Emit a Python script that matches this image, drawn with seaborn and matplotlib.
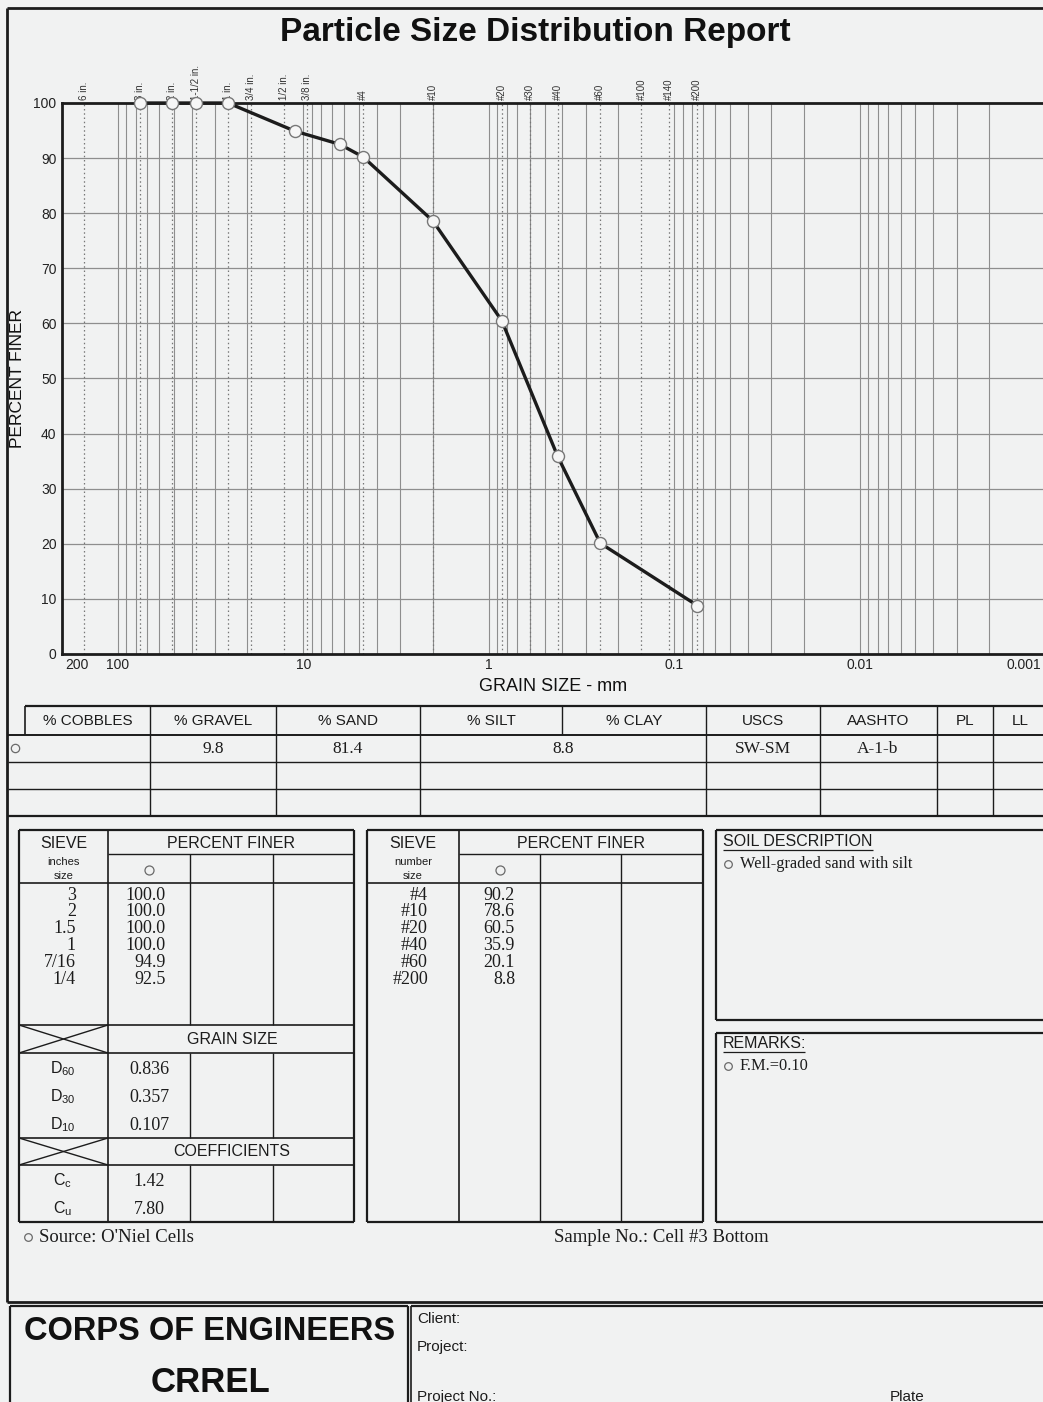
import matplotlib
matplotlib.use("Agg")
import matplotlib.pyplot as plt
from matplotlib.ticker import NullLocator
import pandas as pd
import seaborn as sns

# ---- sieve analysis data ----
sieve_in_labels = ["3", "2", "1.5", "1", "7/16", "1/4"]
sieve_in_mm = [76.2, 50.8, 38.1, 25.4, 11.1, 6.35]
pct_in = [100.0, 100.0, 100.0, 100.0, 94.9, 92.5]

sieve_no_labels = ["#4", "#10", "#20", "#40", "#60", "#200"]
sieve_no_mm = [4.75, 2.0, 0.85, 0.425, 0.25, 0.075]
pct_no = [90.2, 78.6, 60.5, 35.9, 20.1, 8.8]

# standard sieve openings marked across the top of the chart
ref_labels = ["6 in.", "3 in.", "2 in.", "1-1/2 in.", "1 in.", "3/4 in.", "1/2 in.", "3/8 in.",
              "#4", "#10", "#20", "#30", "#40", "#60", "#100", "#140", "#200"]
ref_mm = [152.4, 76.2, 50.8, 38.1, 25.4, 19.05, 12.7, 9.525,
          4.75, 2.0, 0.85, 0.6, 0.425, 0.25, 0.15, 0.106, 0.075]

# summary row
summary_headers = ["% COBBLES", "% GRAVEL", "% SAND", "% SILT", "% CLAY", "USCS", "AASHTO", "PL", "LL"]
pct_gravel = "9.8"
pct_sand = "81.4"
pct_fines = "8.8"
uscs = "SW-SM"
aashto = "A-1-b"

# grain size and coefficients
d_labels = ["D$_{60}$", "D$_{30}$", "D$_{10}$"]
d_values = ["0.836", "0.357", "0.107"]
c_labels = ["C$_{\\rm c}$", "C$_{\\rm u}$"]
c_values = ["1.42", "7.80"]

soil_description = "Well-graded sand with silt"
remarks = "F.M.=0.10"
source = "Source: O'Niel Cells"
sample_no = "Sample No.: Cell #3 Bottom"

# ---- styling ----
W, H = 1043, 1402
BG = "#f1f2f2"
INK = "#1c1c1c"
GRID = "#8e8e8e"
SANS = ["Liberation Sans", "DejaVu Sans"]
SERIF = ["Liberation Serif", "DejaVu Serif"]

sns.set_style("white")
plt.rcParams["font.family"] = SANS
plt.rcParams["mathtext.fontset"] = "custom"
plt.rcParams["mathtext.rm"] = "Liberation Sans"
plt.rcParams["mathtext.it"] = "Liberation Sans:italic"
plt.rcParams["mathtext.bf"] = "Liberation Sans:bold"

fig = plt.figure(figsize=(W / 100, H / 100), dpi=100, facecolor=BG)

# page overlay in pixel units (y downward) for the report form
ov = fig.add_axes([0, 0, 1, 1])
ov.set_xlim(0, W)
ov.set_ylim(H, 0)
ov.axis("off")
ov.set_zorder(0)


def hl(y, x0, x1, lw=1.0):
    ov.plot([x0, x1], [y, y], color=INK, lw=lw, solid_capstyle="butt")


def vl(x, y0, y1, lw=1.0):
    ov.plot([x, x], [y0, y1], color=INK, lw=lw, solid_capstyle="butt")


def rect(x0, y0, x1, y1, lw=1.5):
    hl(y0, x0, x1, lw)
    hl(y1, x0, x1, lw)
    vl(x0, y0, y1, lw)
    vl(x1, y0, y1, lw)


def txt(x, y, s, size=11, family=SANS, ha="left", va="center", weight="normal", color=INK):
    ov.text(x, y, s, fontsize=size, family=family, ha=ha, va=va, weight=weight, color=color)


def ring(x, y, size=6):
    ov.plot([x], [y], marker="o", ms=size, mfc="none", mec="#6a6a6a", mew=0.9)


# ---- gradation chart ----
X0, X1, Y0, Y1 = 62, 1045, 103, 654
ax = fig.add_axes([X0 / W, 1 - Y1 / H, (X1 - X0) / W, (Y1 - Y0) / H])
ax.set_zorder(2)
ax.set_facecolor("none")
ax.set_xscale("log")

df = pd.DataFrame({"size_mm": sieve_in_mm + sieve_no_mm, "pct": pct_in + pct_no})

for e in range(-3, 3):
    for k in range(1, 10):
        v = k * 10.0 ** e
        if 0.001 < v < 200:
            ax.axvline(v, color=GRID, lw=0.8, zorder=1)
for yv in range(10, 100, 10):
    ax.axhline(yv, color=GRID, lw=0.9, zorder=1)
for s in ref_mm:
    ax.axvline(s, color="#777777", lw=0.9, ls=(0, (1.2, 2.2)), zorder=2)

sns.lineplot(data=df, x="size_mm", y="pct", ax=ax, color=INK, lw=2.4,
             zorder=5, clip_on=False, estimator=None)
sns.scatterplot(data=df, x="size_mm", y="pct", ax=ax, s=75, color="#f6f6f6",
                edgecolor="#777777", linewidth=1.0, zorder=6, clip_on=False)

ax.set_xlim(200, 0.001)
ax.set_ylim(0, 100)

for side in ["left", "top", "bottom"]:
    ax.spines[side].set_linewidth(2.0)
    ax.spines[side].set_color(INK)
ax.spines["right"].set_visible(False)

ax.set_yticks(range(0, 101, 10))
ax.set_xticks([100, 10, 1, 0.1, 0.01])
ax.set_xticklabels(["100", "10", "1", "0.1", "0.01"])
ax.xaxis.set_minor_locator(NullLocator())
ax.tick_params(axis="both", length=0, labelsize=10, colors="#222222")
ax.tick_params(axis="y", pad=4)
ax.tick_params(axis="x", pad=3)
ax.annotate("200", xy=(200, 0), xytext=(2, -3), textcoords="offset points",
            ha="left", va="top", fontsize=10, color="#222222", annotation_clip=False)
ax.annotate("0.001", xy=(0.001, 0), xytext=(-3, -3), textcoords="offset points",
            ha="right", va="top", fontsize=10, color="#222222", annotation_clip=False)

ax.set_xlabel("GRAIN SIZE - mm", fontsize=13, labelpad=4, color="#111111")
ax.set_ylabel("PERCENT FINER", fontsize=12.5, labelpad=6, color="#111111")

for s, lab in zip(ref_mm, ref_labels):
    ax.annotate(lab, xy=(s, 100), xytext=(0, 2.5), textcoords="offset points",
                rotation=90, ha="center", va="bottom", fontsize=7, color="#333333",
                annotation_clip=False)

fig.text(535 / W, 1 - 33 / H, "Particle Size Distribution Report", ha="center", va="center",
         fontsize=24, weight="bold", color="#111111")

# ---- page frame ----
vl(7, 8, 1302, 2.0)
hl(8, 7, 1050, 2.0)

# ---- summary table ----
t1 = [25, 150, 276, 420, 562, 706, 820, 937, 993, 1050]
hl(706, 25, 1050, 1.6)
hl(735, 8, 1050, 1.4)
hl(762, 8, 1050, 1.0)
hl(789, 8, 1050, 1.0)
hl(816, 8, 1050, 1.6)
vl(25, 706, 735, 1.2)
vl(562, 706, 735, 1.0)
for c in [150, 276, 420, 706, 820, 937, 993]:
    vl(c, 706, 816, 1.0)
for i, lab in enumerate(summary_headers):
    txt((t1[i] + t1[i + 1]) / 2 if i < 8 else 1020, 721, lab, size=11, ha="center")
ring(15, 748)
txt(213, 749, pct_gravel, size=12.5, family=SERIF, ha="center")
txt(348, 749, pct_sand, size=12.5, family=SERIF, ha="center")
txt(563, 749, pct_fines, size=12.5, family=SERIF, ha="center")
txt(763, 749, uscs, size=12.5, family=SERIF, ha="center")
txt(878, 749, aashto, size=12.5, family=SERIF, ha="center")

# ---- sieve tables ----
ROW0, ROW_STEP = 895, 16.8


def sieve_table(x0, xc1, xc2, xc3, x1, unit_word, sizes, values, size_right, value_right):
    rect(x0, 830, x1, 1222, 1.6)
    vl(xc1, 830, 1222, 1.2)
    hl(854, xc1, x1, 1.0)
    hl(883, x0, x1, 1.2)
    mid = (x0 + xc1) / 2
    txt(mid, 843, "SIEVE", size=11.5, ha="center")
    txt(mid, 862, unit_word, size=8, ha="center")
    txt(mid, 876, "size", size=8, ha="center")
    txt((xc1 + x1) / 2, 843, "PERCENT FINER", size=11.5, ha="center")
    ring((xc1 + xc2) / 2, 870, 6.5)
    for i, (s, v) in enumerate(zip(sizes, values)):
        y = ROW0 + i * ROW_STEP
        txt(size_right, y, s, size=13, family=SERIF, ha="right")
        txt(value_right, y, f"{v:.1f}", size=13, family=SERIF, ha="right")


# inch sieves
sieve_table(19, 108, 190, 273, 354, "inches", sieve_in_labels, pct_in, 76, 166)
for c in [190, 273]:
    vl(c, 854, 1025, 1.0)
    vl(c, 1053, 1138, 1.0)
    vl(c, 1165, 1222, 1.0)
for y in [1025, 1053, 1138, 1165]:
    hl(y, 19, 354, 1.2)
for (ya, yb) in [(1025, 1053), (1138, 1165)]:
    ov.plot([19, 108], [ya, yb], color=INK, lw=1.0)
    ov.plot([19, 108], [yb, ya], color=INK, lw=1.0)
txt(232, 1040, "GRAIN SIZE", size=11.5, ha="center")
txt(232, 1152, "COEFFICIENTS", size=11.5, ha="center")
for i, (lab, v) in enumerate(zip(d_labels, d_values)):
    y = 1069 + i * 28
    txt(63, y, lab, size=11.5, ha="center")
    txt(149, y, v, size=13, family=SERIF, ha="center")
for i, (lab, v) in enumerate(zip(c_labels, c_values)):
    y = 1181 + i * 28
    txt(63, y, lab, size=11.5, ha="center")
    txt(149, y, v, size=13, family=SERIF, ha="center")

# number sieves
sieve_table(367, 459, 540, 621, 703, "number", sieve_no_labels, pct_no, 428, 515)
for c in [540, 621]:
    vl(c, 854, 1222, 1.0)

# ---- description boxes ----
rect(716, 830, 1050, 1020, 1.6)
txt(723, 841, "SOIL DESCRIPTION", size=11.5)
hl(850, 723, 873, 0.9)
ring(728, 864, 5.5)
txt(740, 864, soil_description, size=11.8, family=SERIF)

rect(716, 1033, 1050, 1222, 1.6)
txt(723, 1043, "REMARKS:", size=11.5)
hl(1052, 723, 805, 0.9)
ring(728, 1066, 5.5)
txt(740, 1066, remarks, size=11.8, family=SERIF)

ring(28, 1237, 5.5)
txt(39, 1237, source, size=13.5, family=SERIF)
txt(554, 1237, sample_no, size=13.5, family=SERIF)

# ---- title block ----
hl(1302, 7, 1050, 2.0)
vl(10, 1306, 1410, 1.6)
hl(1306, 10, 408, 1.6)
vl(408, 1306, 1410, 1.6)
hl(1306, 411, 1050, 1.6)
vl(411, 1306, 1410, 1.2)
txt(210, 1332, "CORPS OF ENGINEERS", size=23.5, ha="center", weight="bold", color="#111111")
txt(210, 1382, "CRREL", size=25, ha="center", weight="bold", color="#111111")
txt(417, 1319, "Client:", size=11)
txt(417, 1347, "Project:", size=11)
txt(417, 1397, "Project No.:", size=11)
txt(890, 1397, "Plate", size=11)

fig.savefig("out.png", dpi=100, facecolor=BG)
